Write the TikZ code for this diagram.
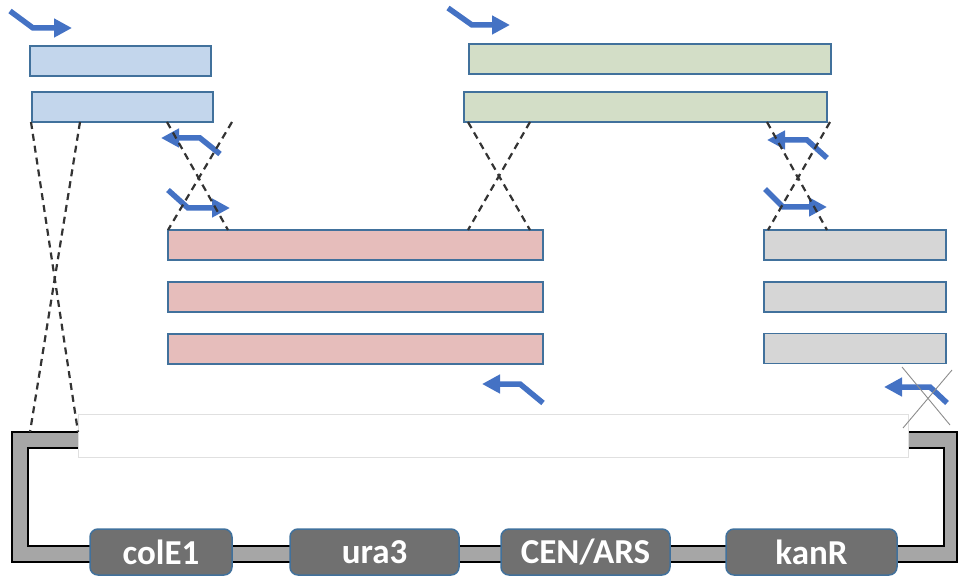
\documentclass[tikz,border=0pt]{standalone}
\usepackage{fontspec}
\setmainfont{Carlito}
\usetikzlibrary{arrows.meta}
\definecolor{barline}{HTML}{41719C}
\definecolor{bluefill}{HTML}{C3D6EC}
\definecolor{greenfill}{HTML}{D3DEC7}
\definecolor{pinkfill}{HTML}{E6BDBB}
\definecolor{grayfill}{HTML}{D6D6D6}
\definecolor{primer}{HTML}{4472C4}
\definecolor{backbone}{HTML}{A6A6A6}
\definecolor{genefill}{HTML}{707070}
\begin{document}
\begin{tikzpicture}[x=1pt,y=-1pt,
  bar/.style={draw=barline, line width=1.8pt, minimum height=30pt, inner sep=0pt, outer sep=0pt},
  homol/.style={black!80, line width=2.2pt, dash pattern=on 7pt off 5pt},
  xmark/.style={black!45, line width=0.9pt},
  primerarrow/.style={primer, line width=5.5pt, line join=miter, -{Triangle[length=18pt,width=18pt]}},
  gene/.style={draw=barline, fill=genefill, line width=1.5pt, rounded corners=8pt,
    minimum height=46pt, inner sep=0pt, outer sep=0pt, text=white,
    font=\fontsize{35}{40}\selectfont\bfseries},
  insertwin/.style={draw=black!12, fill=white, line width=0.8pt, inner sep=0pt, outer sep=0pt},
]
\useasboundingbox (0,0) rectangle (958,577);

% vector backbone (U-shaped band)
\fill[backbone, even odd rule] (12,432) rectangle (957,562) (28,448) rectangle (944,546);
\draw[black, line width=1.3pt] (12,432) rectangle (957,562);
\draw[black, line width=1.3pt] (28,448) rectangle (944,546);

% insertion window
\node[insertwin, minimum width=830pt, minimum height=43pt] (win) at (493,435.5) {};

% backbone elements
\node[gene, minimum width=142pt] (colE1) at (161,552) {colE1};
\node[gene, minimum width=169pt] (ura3) at (374.5,552) {ura3};
\node[gene, minimum width=169pt] (cen) at (585.5,552) {CEN/ARS};
\node[gene, minimum width=171pt] (kanR) at (811.5,552) {kanR};

% fragments
\node[bar, fill=bluefill, minimum width=181pt] (b1) at (120.5,61) {};
\node[bar, fill=bluefill, minimum width=181pt] (b2) at (122.5,107) {};
\node[bar, fill=greenfill, minimum width=362pt] (g1) at (650,59) {};
\node[bar, fill=greenfill, minimum width=363pt] (g2) at (645.5,107) {};
\node[bar, fill=pinkfill, minimum width=375pt] (p1) at (355.5,245) {};
\node[bar, fill=pinkfill, minimum width=375pt] (p2) at (355.5,297) {};
\node[bar, fill=pinkfill, minimum width=375pt] (p3) at (355.5,349) {};
\node[bar, fill=grayfill, minimum width=182pt] (k1) at (855,245) {};
\node[bar, fill=grayfill, minimum width=182pt] (k2) at (855,297) {};
\node[bar, fill=grayfill, minimum width=182pt] (k3) at (855,348.5) {};

% primers
\coordinate (a1s) at (10,11);   \coordinate (a1b) at (33,28);   \coordinate (a1t) at (72,28);
\coordinate (a2s) at (220,154); \coordinate (a2b) at (200,138); \coordinate (a2t) at (161,138);
\coordinate (a3s) at (168,190); \coordinate (a3b) at (188,208); \coordinate (a3t) at (230,208);
\coordinate (a4s) at (448,8);   \coordinate (a4b) at (472,25);  \coordinate (a4t) at (510,25);
\coordinate (a5s) at (827,158); \coordinate (a5b) at (807,140); \coordinate (a5t) at (767,140);
\coordinate (a6s) at (765,189); \coordinate (a6b) at (783,207); \coordinate (a6t) at (827,207);
\coordinate (a7s) at (543,403); \coordinate (a7b) at (520,384); \coordinate (a7t) at (482,384);
\coordinate (a8s) at (947,403); \coordinate (a8b) at (930,387); \coordinate (a8t) at (884,387);
\foreach \i in {1,...,8}
  \draw[primerarrow] (a\i s) -- (a\i b) -- (a\i t);

% homology crossovers
\coordinate (h1a) at (31,122);  \coordinate (h1b) at (78,432);
\coordinate (h2a) at (80,122);  \coordinate (h2b) at (30,432);
\coordinate (h3a) at (167,122); \coordinate (h3b) at (228,230);
\coordinate (h4a) at (232,122); \coordinate (h4b) at (168,230);
\coordinate (h5a) at (468,122); \coordinate (h5b) at (530,230);
\coordinate (h6a) at (530,122); \coordinate (h6b) at (468,230);
\coordinate (h7a) at (767,122); \coordinate (h7b) at (827,230);
\coordinate (h8a) at (830,122); \coordinate (h8b) at (768,230);
\foreach \i in {1,...,8}
  \draw[homol] (h\i a) -- (h\i b);

% crossed-out primer site
\coordinate (x1a) at (902,367); \coordinate (x1b) at (950,425);
\coordinate (x2a) at (952,370); \coordinate (x2b) at (903,428);
\draw[xmark] (x1a) -- (x1b);
\draw[xmark] (x2a) -- (x2b);
\end{tikzpicture}
\end{document}
